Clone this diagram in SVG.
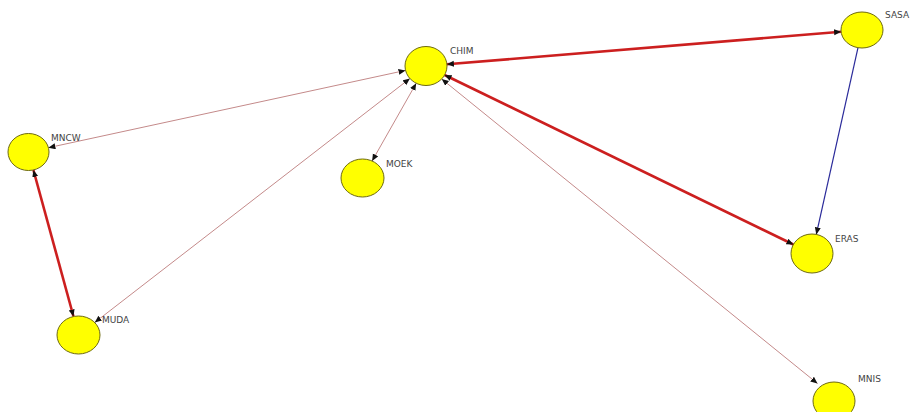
<svg xmlns="http://www.w3.org/2000/svg" width="910" height="412" viewBox="0 0 910 412">
  <style>
    .node ellipse { fill: #ffff00; stroke: #6e6a10; stroke-width: 1; }
    .node text { font-family: "DejaVu Sans", "Liberation Sans", sans-serif; font-size: 9px; fill: #444444; }
    .thin { stroke: #c48a8a; stroke-width: 1; fill: none; }
    .thick { stroke: #cc1f1f; stroke-width: 2.6; fill: none; }
    .blue { stroke: #2a2a9a; stroke-width: 1.2; fill: none; }
  </style>
  <defs>
    <marker id="arrow" markerUnits="userSpaceOnUse" markerWidth="8" markerHeight="7" refX="7" refY="3" orient="auto-start-reverse">
      <path d="M0,0 L7,3 L0,6 z" fill="#111111"/>
    </marker>
  </defs>
  <rect width="910" height="412" fill="#ffffff"/>

  <g id="connectors">
    <line class="thin" x1="405.5" y1="70.4" x2="48.4" y2="147.7" marker-start="url(#arrow)" marker-end="url(#arrow)"/>
    <line class="thin" x1="409.9" y1="78.5" x2="94.7" y2="322.5" marker-start="url(#arrow)" marker-end="url(#arrow)"/>
    <line class="thin" x1="416.2" y1="83.3" x2="372.1" y2="161.0" marker-start="url(#arrow)" marker-end="url(#arrow)"/>
    <line class="thin" x1="441.7" y1="79.0" x2="817.5" y2="383.5" marker-start="url(#arrow)" marker-end="url(#arrow)"/>
    <line class="thick" x1="446.9" y1="64.3" x2="841.1" y2="31.7" marker-start="url(#arrow)" marker-end="url(#arrow)"/>
    <line class="thick" x1="444.6" y1="75.0" x2="793.4" y2="244.5" marker-start="url(#arrow)" marker-end="url(#arrow)"/>
    <line class="thick" x1="33.4" y1="170.0" x2="73.5" y2="316.5" marker-start="url(#arrow)" marker-end="url(#arrow)"/>
    <line class="blue" x1="858.0" y1="47.7" x2="816.3" y2="234.4" marker-end="url(#arrow)"/>
  </g>

  <g id="CHIM" class="node">
    <ellipse cx="426" cy="66" rx="21" ry="19.5"/>
    <text x="450" y="54">CHIM</text>
  </g>
  <g id="SASA" class="node">
    <ellipse cx="862" cy="30" rx="21" ry="18"/>
    <text x="885" y="18">SASA</text>
  </g>
  <g id="MNCW" class="node">
    <ellipse cx="28.5" cy="152" rx="20.5" ry="18.5"/>
    <text x="51" y="141">MNCW</text>
  </g>
  <g id="MOEK" class="node">
    <ellipse cx="362.5" cy="178" rx="21.5" ry="19"/>
    <text x="386" y="167">MOEK</text>
  </g>
  <g id="ERAS" class="node">
    <ellipse cx="812" cy="253.5" rx="21" ry="19.5"/>
    <text x="835" y="242">ERAS</text>
  </g>
  <g id="MUDA" class="node">
    <ellipse cx="78.5" cy="335" rx="21.5" ry="19"/>
    <text x="102" y="323">MUDA</text>
  </g>
  <g id="MNIS" class="node">
    <ellipse cx="834" cy="401" rx="21" ry="19"/>
    <text x="858" y="382">MNIS</text>
  </g>
</svg>
